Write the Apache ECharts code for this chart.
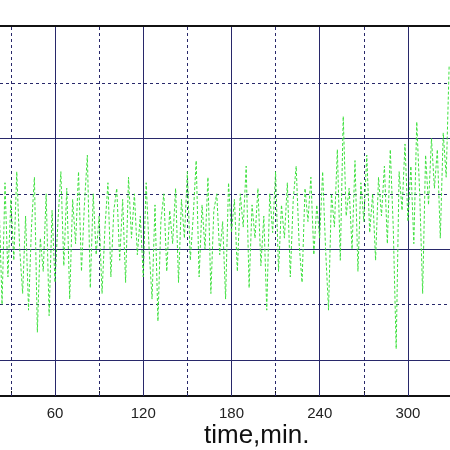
<!DOCTYPE html>
<html>
<head>
<meta charset="utf-8">
<script src="https://cdn.jsdelivr.net/npm/echarts@6/dist/echarts.min.js"></script>
<style>html,body{margin:0;padding:0;background:#fff}#main{width:450px;height:450px}</style>
</head>
<body>
<div id="main"></div>
<script>
// sample start and step (minutes)
var startTime = 22;
var stepTime = 2;
var signal = [
  2.8,1.0,3.2,1.5,2.9,1.8,3.4,2.0,1.2,2.6,0.9,2.4,3.3,0.5,2.2,1.6,3.0,0.8,2.7,1.4,
  2.5,3.4,1.7,3.1,1.1,2.9,2.1,3.4,1.6,2.8,3.7,1.3,3.0,1.9,2.6,1.2,2.4,3.2,1.5,2.7,
  3.1,1.8,2.9,1.4,3.3,2.2,3.0,1.9,2.6,1.5,3.2,2.0,1.1,2.8,0.7,2.5,3.0,1.6,2.7,2.1,
  3.1,1.4,2.9,2.2,3.4,1.8,2.6,3.6,1.5,2.8,2.0,3.3,1.2,2.7,3.0,1.9,2.5,1.1,3.2,2.3,
  2.9,1.6,3.0,2.4,3.5,1.3,2.8,2.2,3.1,1.7,2.6,0.9,3.0,2.3,3.4,1.6,2.8,2.2,3.2,1.5,
  2.9,3.5,2.1,1.4,3.1,2.5,3.3,1.9,2.8,2.2,3.4,2.0,0.9,3.0,2.4,3.8,1.8,4.4,2.6,3.1,
  2.0,3.6,1.6,3.2,2.5,3.7,2.3,3.0,1.8,3.3,2.6,3.5,2.1,3.8,2.4,0.2,3.4,2.7,3.9,2.5,
  3.5,2.1,4.3,3.0,1.2,3.7,2.8,4.0,3.1,3.8,2.2,4.1,3.3,5.3
];
var xTicks = [30, 60, 90, 120, 150, 180, 210, 240, 270, 300];
var xLabels = [60, 120, 180, 240, 300];
var xMajor = [60, 120, 180, 240, 300];
var xMinor = [30, 90, 150, 210, 270];
var yMajor = [0, 2, 4];
var yMinor = [1, 3, 5];
var yTop = 6.03;

var pts = [];
for (var i = 0; i < signal.length; i++) {
  pts.push([startTime + i * stepTime, signal[i]]);
}

var gridColor = '#28286a';
var lines = [];
xMajor.forEach(function (v) { lines.push({xAxis: v, lineStyle: {type: 'solid'}}); });
xMinor.forEach(function (v) { lines.push({xAxis: v, lineStyle: {type: [3, 3]}}); });
yMajor.forEach(function (v) { lines.push({yAxis: v, lineStyle: {type: 'solid'}}); });
yMinor.forEach(function (v) { lines.push({yAxis: v, lineStyle: {type: [3, 3]}}); });
lines.push({yAxis: yTop, lineStyle: {type: 'solid', color: '#111', width: 2}});

var chart = echarts.init(document.getElementById('main'));
chart.setOption({
  animation: false,
  grid: {left: 0, right: 0, top: 26, bottom: 54},
  xAxis: {
    type: 'value', min: 22.6, max: 328.6,
    splitLine: {show: false},
    axisLine: {onZero: false, lineStyle: {color: '#111', width: 2}},
    axisTick: {show: true, inside: true, length: 5, customValues: xTicks, lineStyle: {color: '#111'}},
    axisLabel: {customValues: xLabels, color: '#222', fontFamily: 'Liberation Sans', fontSize: 15, margin: 10}
  },
  yAxis: {
    type: 'value', min: -0.65, max: yTop,
    show: false, splitLine: {show: false}
  },
  graphic: [{
    type: 'text', left: 204, top: 423,
    style: {text: 'time,min.', fill: '#111', font: '26px "Liberation Sans"'}
  }],
  series: [{
    type: 'line', data: pts, symbol: 'none',
    lineStyle: {color: '#3ee03e', width: 1, type: [3, 2]},
    z: 3,
    markLine: {
      silent: true, symbol: 'none', label: {show: false},
      lineStyle: {color: gridColor, width: 1},
      data: lines, z: 1
    }
  }]
});
</script>
</body>
</html>
